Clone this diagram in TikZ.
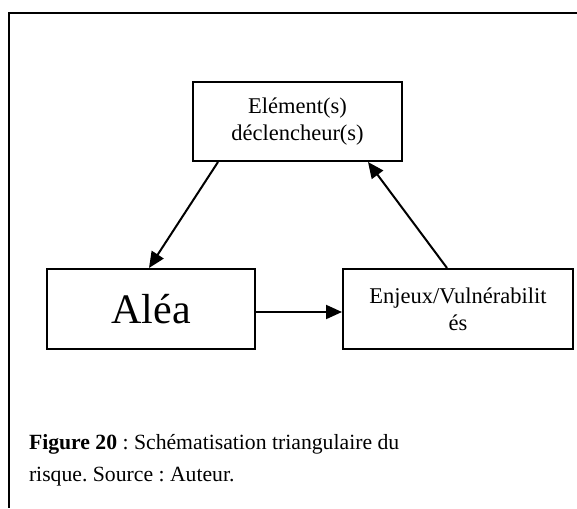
\documentclass[tikz,border=0pt]{standalone}
\usepackage{fontspec}
\setmainfont{Liberation Serif}
\usetikzlibrary{arrows.meta,positioning}
\frenchspacing

\begin{document}
\begin{tikzpicture}[
    x=1pt,
    y=-1pt,
    line width=2pt,
    >={Triangle[length=16pt,width=14pt]},
    box node/.style={rectangle,draw,fill=white,align=center,inner sep=0pt},
    label text/.style={font=\fontsize{22.5}{27}\selectfont},
    caption text/.style={anchor=base west,inner sep=0pt,font=\fontsize{21.7}{26}\selectfont}]

  \useasboundingbox (0,0) rectangle (577,508);

  % cadre
  \draw (577,13) -- (9,13) -- (9,508);

  \node[box node,label text,minimum width=209pt,minimum height=79pt] (Declencheur) at (297.5,121.5) {Elément(s)\\déclencheur(s)};
  \node[box node,minimum width=208pt,minimum height=80pt,font=\fontsize{42}{48}\selectfont] (Alea) at (151,309) {Aléa};
  \node[box node,label text,minimum width=230pt,minimum height=80pt] (Enjeux) at (458,309) {Enjeux/Vulnérabilit\\és};

  \node[caption text] (Caption1) at (28,449) {\textbf{Figure 20} : Schématisation triangulaire du};
  \node[caption text] (Caption2) at (28,481) {risque. Source : Auteur.};

  \path
    ([xshift=26pt]Declencheur.south west)
         edge[->] ([xshift=-2pt]Alea.north)
    ([xshift=-11pt]Enjeux.north)
         edge[->] ([xshift=-35pt]Declencheur.south east)
    ([yshift=-3pt]Alea.east)
         edge[->] ([yshift=-3pt]Enjeux.west);
\end{tikzpicture}
\end{document}
